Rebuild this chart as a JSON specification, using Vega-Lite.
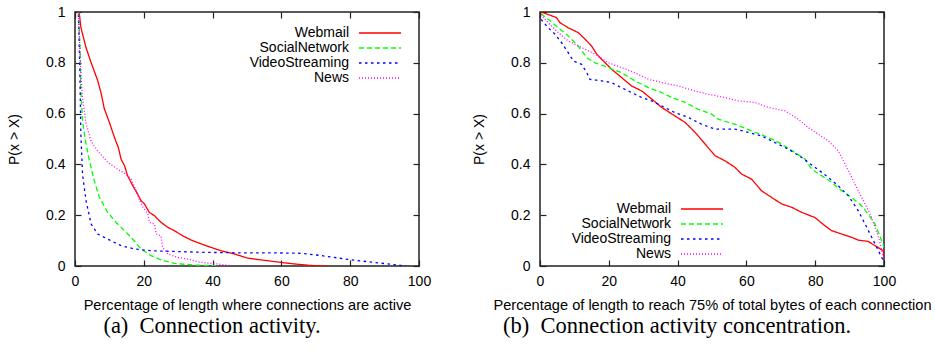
{
  "$schema": "https://vega.github.io/schema/vega-lite/v6.json",
  "background": "white",
  "padding": {"left": 6, "top": 4, "right": 0, "bottom": 0},
  "spacing": 39,
  "datasets": {
    "activity": [
      {"series": "Webmail", "x": 1.0, "p": 1.0},
      {"series": "Webmail", "x": 1.3, "p": 0.99},
      {"series": "Webmail", "x": 1.7, "p": 0.94},
      {"series": "Webmail", "x": 3.2, "p": 0.86},
      {"series": "Webmail", "x": 4.7, "p": 0.8},
      {"series": "Webmail", "x": 6.6, "p": 0.73},
      {"series": "Webmail", "x": 7.6, "p": 0.68},
      {"series": "Webmail", "x": 8.5, "p": 0.62},
      {"series": "Webmail", "x": 10.0, "p": 0.565},
      {"series": "Webmail", "x": 11.0, "p": 0.525},
      {"series": "Webmail", "x": 11.9, "p": 0.49},
      {"series": "Webmail", "x": 12.6, "p": 0.467},
      {"series": "Webmail", "x": 13.4, "p": 0.42},
      {"series": "Webmail", "x": 14.4, "p": 0.395},
      {"series": "Webmail", "x": 15.3, "p": 0.355},
      {"series": "Webmail", "x": 16.8, "p": 0.316},
      {"series": "Webmail", "x": 18.2, "p": 0.283},
      {"series": "Webmail", "x": 19.2, "p": 0.257},
      {"series": "Webmail", "x": 20.2, "p": 0.244},
      {"series": "Webmail", "x": 21.6, "p": 0.211},
      {"series": "Webmail", "x": 23.1, "p": 0.198},
      {"series": "Webmail", "x": 25.0, "p": 0.172},
      {"series": "Webmail", "x": 27.0, "p": 0.152},
      {"series": "Webmail", "x": 28.9, "p": 0.139},
      {"series": "Webmail", "x": 31.3, "p": 0.119},
      {"series": "Webmail", "x": 33.8, "p": 0.102},
      {"series": "Webmail", "x": 36.7, "p": 0.087},
      {"series": "Webmail", "x": 39.6, "p": 0.073},
      {"series": "Webmail", "x": 42.5, "p": 0.06},
      {"series": "Webmail", "x": 46.4, "p": 0.047},
      {"series": "Webmail", "x": 50.2, "p": 0.031},
      {"series": "Webmail", "x": 54.1, "p": 0.024},
      {"series": "Webmail", "x": 59.9, "p": 0.014},
      {"series": "Webmail", "x": 63.8, "p": 0.008},
      {"series": "Webmail", "x": 68.7, "p": 0.002},
      {"series": "Webmail", "x": 73.5, "p": 0.0},
      {"series": "SocialNetwork", "x": 1.0, "p": 1.0},
      {"series": "SocialNetwork", "x": 1.5, "p": 0.85},
      {"series": "SocialNetwork", "x": 1.7, "p": 0.69},
      {"series": "SocialNetwork", "x": 2.2, "p": 0.57},
      {"series": "SocialNetwork", "x": 3.2, "p": 0.48},
      {"series": "SocialNetwork", "x": 4.2, "p": 0.414},
      {"series": "SocialNetwork", "x": 5.6, "p": 0.336},
      {"series": "SocialNetwork", "x": 7.1, "p": 0.27},
      {"series": "SocialNetwork", "x": 9.5, "p": 0.211},
      {"series": "SocialNetwork", "x": 11.9, "p": 0.172},
      {"series": "SocialNetwork", "x": 14.4, "p": 0.139},
      {"series": "SocialNetwork", "x": 16.3, "p": 0.113},
      {"series": "SocialNetwork", "x": 19.2, "p": 0.067},
      {"series": "SocialNetwork", "x": 22.1, "p": 0.041},
      {"series": "SocialNetwork", "x": 25.0, "p": 0.024},
      {"series": "SocialNetwork", "x": 28.9, "p": 0.01},
      {"series": "SocialNetwork", "x": 34.7, "p": 0.004},
      {"series": "SocialNetwork", "x": 41.5, "p": 0.0},
      {"series": "VideoStreaming", "x": 1.0, "p": 0.99},
      {"series": "VideoStreaming", "x": 1.4, "p": 0.78},
      {"series": "VideoStreaming", "x": 1.7, "p": 0.52},
      {"series": "VideoStreaming", "x": 2.2, "p": 0.36},
      {"series": "VideoStreaming", "x": 3.2, "p": 0.257},
      {"series": "VideoStreaming", "x": 4.7, "p": 0.165},
      {"series": "VideoStreaming", "x": 6.6, "p": 0.126},
      {"series": "VideoStreaming", "x": 9.5, "p": 0.106},
      {"series": "VideoStreaming", "x": 13.4, "p": 0.08},
      {"series": "VideoStreaming", "x": 17.3, "p": 0.067},
      {"series": "VideoStreaming", "x": 22.1, "p": 0.06},
      {"series": "VideoStreaming", "x": 27.0, "p": 0.058},
      {"series": "VideoStreaming", "x": 36.7, "p": 0.054},
      {"series": "VideoStreaming", "x": 46.4, "p": 0.052},
      {"series": "VideoStreaming", "x": 56.1, "p": 0.052},
      {"series": "VideoStreaming", "x": 65.8, "p": 0.05},
      {"series": "VideoStreaming", "x": 71.6, "p": 0.041},
      {"series": "VideoStreaming", "x": 80.3, "p": 0.024},
      {"series": "VideoStreaming", "x": 87.1, "p": 0.014},
      {"series": "VideoStreaming", "x": 92.9, "p": 0.005},
      {"series": "VideoStreaming", "x": 96.3, "p": 0.0},
      {"series": "News", "x": 1.0, "p": 1.0},
      {"series": "News", "x": 1.7, "p": 0.755},
      {"series": "News", "x": 2.2, "p": 0.66},
      {"series": "News", "x": 3.2, "p": 0.56},
      {"series": "News", "x": 4.7, "p": 0.49},
      {"series": "News", "x": 6.6, "p": 0.453},
      {"series": "News", "x": 9.5, "p": 0.408},
      {"series": "News", "x": 12.4, "p": 0.381},
      {"series": "News", "x": 14.8, "p": 0.362},
      {"series": "News", "x": 16.3, "p": 0.342},
      {"series": "News", "x": 17.8, "p": 0.296},
      {"series": "News", "x": 18.8, "p": 0.257},
      {"series": "News", "x": 19.8, "p": 0.231},
      {"series": "News", "x": 21.2, "p": 0.204},
      {"series": "News", "x": 21.6, "p": 0.172},
      {"series": "News", "x": 23.1, "p": 0.165},
      {"series": "News", "x": 23.6, "p": 0.126},
      {"series": "News", "x": 25.0, "p": 0.119},
      {"series": "News", "x": 25.5, "p": 0.073},
      {"series": "News", "x": 27.0, "p": 0.047},
      {"series": "News", "x": 29.9, "p": 0.034},
      {"series": "News", "x": 33.8, "p": 0.024},
      {"series": "News", "x": 36.7, "p": 0.014},
      {"series": "News", "x": 41.5, "p": 0.008},
      {"series": "News", "x": 45.4, "p": 0.001}
    ],
    "concentration": [
      {"series": "Webmail", "x": 0.3, "p": 1.0},
      {"series": "Webmail", "x": 2.4, "p": 0.99},
      {"series": "Webmail", "x": 4.8, "p": 0.978},
      {"series": "Webmail", "x": 5.8, "p": 0.958},
      {"series": "Webmail", "x": 8.2, "p": 0.938},
      {"series": "Webmail", "x": 11.1, "p": 0.919},
      {"series": "Webmail", "x": 13.1, "p": 0.893},
      {"series": "Webmail", "x": 15.0, "p": 0.866},
      {"series": "Webmail", "x": 16.5, "p": 0.834},
      {"series": "Webmail", "x": 17.9, "p": 0.814},
      {"series": "Webmail", "x": 20.8, "p": 0.775},
      {"series": "Webmail", "x": 23.7, "p": 0.742},
      {"series": "Webmail", "x": 26.6, "p": 0.709},
      {"series": "Webmail", "x": 29.6, "p": 0.689},
      {"series": "Webmail", "x": 32.5, "p": 0.657},
      {"series": "Webmail", "x": 35.4, "p": 0.624},
      {"series": "Webmail", "x": 39.2, "p": 0.591},
      {"series": "Webmail", "x": 42.2, "p": 0.565},
      {"series": "Webmail", "x": 45.1, "p": 0.526},
      {"series": "Webmail", "x": 48.0, "p": 0.48},
      {"series": "Webmail", "x": 50.9, "p": 0.434},
      {"series": "Webmail", "x": 53.8, "p": 0.414},
      {"series": "Webmail", "x": 56.7, "p": 0.388},
      {"series": "Webmail", "x": 58.6, "p": 0.362},
      {"series": "Webmail", "x": 61.5, "p": 0.342},
      {"series": "Webmail", "x": 64.4, "p": 0.296},
      {"series": "Webmail", "x": 67.3, "p": 0.27},
      {"series": "Webmail", "x": 70.3, "p": 0.244},
      {"series": "Webmail", "x": 73.2, "p": 0.231},
      {"series": "Webmail", "x": 76.1, "p": 0.211},
      {"series": "Webmail", "x": 79.9, "p": 0.191},
      {"series": "Webmail", "x": 82.8, "p": 0.159},
      {"series": "Webmail", "x": 84.8, "p": 0.139},
      {"series": "Webmail", "x": 87.7, "p": 0.126},
      {"series": "Webmail", "x": 90.6, "p": 0.113},
      {"series": "Webmail", "x": 92.5, "p": 0.102},
      {"series": "Webmail", "x": 95.4, "p": 0.097},
      {"series": "Webmail", "x": 97.4, "p": 0.08},
      {"series": "Webmail", "x": 99.8, "p": 0.06},
      {"series": "Webmail", "x": 100.0, "p": 0.034},
      {"series": "SocialNetwork", "x": 0.3, "p": 0.993},
      {"series": "SocialNetwork", "x": 2.4, "p": 0.971},
      {"series": "SocialNetwork", "x": 5.3, "p": 0.938},
      {"series": "SocialNetwork", "x": 8.2, "p": 0.906},
      {"series": "SocialNetwork", "x": 11.1, "p": 0.866},
      {"series": "SocialNetwork", "x": 13.6, "p": 0.82},
      {"series": "SocialNetwork", "x": 16.0, "p": 0.8},
      {"series": "SocialNetwork", "x": 19.9, "p": 0.781},
      {"series": "SocialNetwork", "x": 23.7, "p": 0.761},
      {"series": "SocialNetwork", "x": 27.6, "p": 0.729},
      {"series": "SocialNetwork", "x": 31.5, "p": 0.702},
      {"series": "SocialNetwork", "x": 35.4, "p": 0.683},
      {"series": "SocialNetwork", "x": 38.3, "p": 0.663},
      {"series": "SocialNetwork", "x": 42.2, "p": 0.644},
      {"series": "SocialNetwork", "x": 46.0, "p": 0.617},
      {"series": "SocialNetwork", "x": 49.9, "p": 0.598},
      {"series": "SocialNetwork", "x": 51.8, "p": 0.578},
      {"series": "SocialNetwork", "x": 56.7, "p": 0.558},
      {"series": "SocialNetwork", "x": 61.5, "p": 0.532},
      {"series": "SocialNetwork", "x": 66.4, "p": 0.506},
      {"series": "SocialNetwork", "x": 70.3, "p": 0.48},
      {"series": "SocialNetwork", "x": 74.1, "p": 0.447},
      {"series": "SocialNetwork", "x": 77.0, "p": 0.421},
      {"series": "SocialNetwork", "x": 79.0, "p": 0.381},
      {"series": "SocialNetwork", "x": 81.9, "p": 0.355},
      {"series": "SocialNetwork", "x": 84.8, "p": 0.329},
      {"series": "SocialNetwork", "x": 87.7, "p": 0.296},
      {"series": "SocialNetwork", "x": 90.6, "p": 0.27},
      {"series": "SocialNetwork", "x": 93.5, "p": 0.237},
      {"series": "SocialNetwork", "x": 95.4, "p": 0.204},
      {"series": "SocialNetwork", "x": 97.4, "p": 0.165},
      {"series": "SocialNetwork", "x": 99.3, "p": 0.1},
      {"series": "SocialNetwork", "x": 100.0, "p": 0.073},
      {"series": "VideoStreaming", "x": 0.3, "p": 0.971},
      {"series": "VideoStreaming", "x": 2.4, "p": 0.938},
      {"series": "VideoStreaming", "x": 4.4, "p": 0.912},
      {"series": "VideoStreaming", "x": 6.3, "p": 0.879},
      {"series": "VideoStreaming", "x": 8.2, "p": 0.84},
      {"series": "VideoStreaming", "x": 9.7, "p": 0.807},
      {"series": "VideoStreaming", "x": 12.1, "p": 0.794},
      {"series": "VideoStreaming", "x": 13.6, "p": 0.761},
      {"series": "VideoStreaming", "x": 14.5, "p": 0.735},
      {"series": "VideoStreaming", "x": 17.9, "p": 0.729},
      {"series": "VideoStreaming", "x": 20.8, "p": 0.722},
      {"series": "VideoStreaming", "x": 23.7, "p": 0.702},
      {"series": "VideoStreaming", "x": 26.6, "p": 0.683},
      {"series": "VideoStreaming", "x": 29.6, "p": 0.663},
      {"series": "VideoStreaming", "x": 32.5, "p": 0.65},
      {"series": "VideoStreaming", "x": 35.4, "p": 0.63},
      {"series": "VideoStreaming", "x": 39.2, "p": 0.604},
      {"series": "VideoStreaming", "x": 43.1, "p": 0.585},
      {"series": "VideoStreaming", "x": 47.0, "p": 0.558},
      {"series": "VideoStreaming", "x": 50.9, "p": 0.539},
      {"series": "VideoStreaming", "x": 56.7, "p": 0.539},
      {"series": "VideoStreaming", "x": 60.6, "p": 0.526},
      {"series": "VideoStreaming", "x": 64.4, "p": 0.512},
      {"series": "VideoStreaming", "x": 68.3, "p": 0.486},
      {"series": "VideoStreaming", "x": 72.2, "p": 0.46},
      {"series": "VideoStreaming", "x": 76.1, "p": 0.427},
      {"series": "VideoStreaming", "x": 80.0, "p": 0.388},
      {"series": "VideoStreaming", "x": 83.8, "p": 0.349},
      {"series": "VideoStreaming", "x": 86.7, "p": 0.316},
      {"series": "VideoStreaming", "x": 89.6, "p": 0.277},
      {"series": "VideoStreaming", "x": 92.5, "p": 0.218},
      {"series": "VideoStreaming", "x": 95.0, "p": 0.152},
      {"series": "VideoStreaming", "x": 97.4, "p": 0.087},
      {"series": "VideoStreaming", "x": 99.8, "p": 0.021},
      {"series": "News", "x": 0.3, "p": 0.99},
      {"series": "News", "x": 2.4, "p": 0.958},
      {"series": "News", "x": 4.8, "p": 0.925},
      {"series": "News", "x": 8.2, "p": 0.886},
      {"series": "News", "x": 12.1, "p": 0.86},
      {"series": "News", "x": 16.0, "p": 0.834},
      {"series": "News", "x": 19.9, "p": 0.8},
      {"series": "News", "x": 23.7, "p": 0.781},
      {"series": "News", "x": 27.6, "p": 0.761},
      {"series": "News", "x": 31.5, "p": 0.735},
      {"series": "News", "x": 35.4, "p": 0.722},
      {"series": "News", "x": 40.2, "p": 0.709},
      {"series": "News", "x": 45.1, "p": 0.689},
      {"series": "News", "x": 48.9, "p": 0.676},
      {"series": "News", "x": 53.8, "p": 0.663},
      {"series": "News", "x": 57.7, "p": 0.65},
      {"series": "News", "x": 62.5, "p": 0.644},
      {"series": "News", "x": 66.4, "p": 0.624},
      {"series": "News", "x": 71.2, "p": 0.611},
      {"series": "News", "x": 75.1, "p": 0.578},
      {"series": "News", "x": 78.0, "p": 0.545},
      {"series": "News", "x": 80.9, "p": 0.519},
      {"series": "News", "x": 83.8, "p": 0.493},
      {"series": "News", "x": 86.7, "p": 0.453},
      {"series": "News", "x": 88.7, "p": 0.401},
      {"series": "News", "x": 90.6, "p": 0.349},
      {"series": "News", "x": 92.5, "p": 0.296},
      {"series": "News", "x": 94.5, "p": 0.244},
      {"series": "News", "x": 96.4, "p": 0.191},
      {"series": "News", "x": 98.4, "p": 0.113},
      {"series": "News", "x": 100.0, "p": 0.028}
    ]
  },
  "hconcat": [
    {
      "width": 344,
      "height": 254,
      "data": {"name": "activity"},
      "title": {"text": "(a)\u2002Connection activity.", "orient": "bottom", "dx": -35},
      "layer": [
        {
          "mark": {"type": "line", "strokeWidth": 1.3, "clip": true},
          "encoding": {
            "x": {"field": "x", "type": "quantitative", "scale": {"domain": [0, 100]},
                  "axis": {"orient": "bottom", "title": "Percentage of length where connections are active", "values": [0, 20, 40, 60, 80, 100]}},
            "y": {"field": "p", "type": "quantitative", "scale": {"domain": [0, 1]},
                  "axis": {"orient": "left", "title": "P(x > X)", "values": [0, 0.2, 0.4, 0.6, 0.8, 1], "format": "~g"}},
            "color": {"field": "series", "type": "nominal",
                      "scale": {"domain": ["Webmail", "SocialNetwork", "VideoStreaming", "News"], "range": ["#ff0000", "#00ff00", "#0000ff", "#ff00ff"]},
                      "legend": {"title": null, "orient": "none", "legendX": 298, "legendY": 14, "labelAlign": "right", "labelOffset": -38}},
            "strokeDash": {"field": "series", "type": "nominal",
                      "scale": {"domain": ["Webmail", "SocialNetwork", "VideoStreaming", "News"], "range": [[1, 0], [5, 3], [2.5, 3.5], [1, 2]]},
                      "legend": {"title": null, "orient": "none", "legendX": 298, "legendY": 14, "labelAlign": "right", "labelOffset": -38}}
          }
        },
        {
          "mark": {"type": "point", "opacity": 0},
          "encoding": {
            "x": {"field": "x", "type": "quantitative", "scale": {"domain": [0, 100]},
                  "axis": {"orient": "top", "title": null, "labels": false, "values": [0, 20, 40, 60, 80, 100]}},
            "y": {"field": "p", "type": "quantitative", "scale": {"domain": [0, 1]},
                  "axis": {"orient": "right", "title": null, "labels": false, "values": [0, 0.2, 0.4, 0.6, 0.8, 1]}}
          }
        }
      ],
      "resolve": {"axis": {"x": "independent", "y": "independent"}}
    },
    {
      "width": 344,
      "height": 254,
      "data": {"name": "concentration"},
      "title": {"text": "(b)\u2002Connection activity concentration.", "orient": "bottom", "dx": -35},
      "layer": [
        {
          "mark": {"type": "line", "strokeWidth": 1.3, "clip": true},
          "encoding": {
            "x": {"field": "x", "type": "quantitative", "scale": {"domain": [0, 100]},
                  "axis": {"orient": "bottom", "title": "Percentage of length to reach 75% of total bytes of each connection", "values": [0, 20, 40, 60, 80, 100]}},
            "y": {"field": "p", "type": "quantitative", "scale": {"domain": [0, 1]},
                  "axis": {"orient": "left", "title": "P(x > X)", "values": [0, 0.2, 0.4, 0.6, 0.8, 1], "format": "~g"}},
            "color": {"field": "series", "type": "nominal",
                      "scale": {"domain": ["Webmail", "SocialNetwork", "VideoStreaming", "News"], "range": ["#ff0000", "#00ff00", "#0000ff", "#ff00ff"]},
                      "legend": {"title": null, "orient": "none", "legendX": 155, "legendY": 190, "labelAlign": "right", "labelOffset": -38}},
            "strokeDash": {"field": "series", "type": "nominal",
                      "scale": {"domain": ["Webmail", "SocialNetwork", "VideoStreaming", "News"], "range": [[1, 0], [5, 3], [2.5, 3.5], [1, 2]]},
                      "legend": {"title": null, "orient": "none", "legendX": 155, "legendY": 190, "labelAlign": "right", "labelOffset": -38}}
          }
        },
        {
          "mark": {"type": "point", "opacity": 0},
          "encoding": {
            "x": {"field": "x", "type": "quantitative", "scale": {"domain": [0, 100]},
                  "axis": {"orient": "top", "title": null, "labels": false, "values": [0, 20, 40, 60, 80, 100]}},
            "y": {"field": "p", "type": "quantitative", "scale": {"domain": [0, 1]},
                  "axis": {"orient": "right", "title": null, "labels": false, "values": [0, 0.2, 0.4, 0.6, 0.8, 1]}}
          }
        }
      ],
      "resolve": {"axis": {"x": "independent", "y": "independent"}}
    }
  ],
  "resolve": {"legend": {"color": "independent", "strokeDash": "independent"}, "scale": {"color": "independent", "strokeDash": "independent"}},
  "config": {
    "view": {"stroke": "#222222", "strokeWidth": 1.5},
    "axis": {
      "domain": false,
      "grid": false,
      "ticks": true,
      "tickColor": "#222222",
      "tickSize": 6,
      "tickWidth": 1.2,
      "offset": -6,
      "zindex": 1,
      "labelFont": "Liberation Sans",
      "labelFontSize": 14,
      "labelColor": "black",
      "labelFlush": false,
      "labelOverlap": false,
      "titleFont": "Liberation Sans",
      "titleFontSize": 14,
      "titleFontWeight": "normal",
      "titleColor": "black"
    },
    "axisX": {"labelPadding": 8, "titlePadding": 9, "titleFontSize": 14.6},
    "axisY": {"labelPadding": 10, "titlePadding": 24},
    "legend": {
      "symbolType": "M-10,0H10",
      "symbolSize": 17.64,
      "symbolStrokeWidth": 1.3,
      "labelFont": "Liberation Sans",
      "labelFontSize": 14,
      "labelColor": "black",
      "labelLimit": 0,
      "rowPadding": 1,
      "padding": 0
    },
    "title": {
      "font": "Liberation Serif",
      "fontSize": 22.5,
      "fontWeight": "normal",
      "color": "black",
      "offset": 3
    }
  }
}
